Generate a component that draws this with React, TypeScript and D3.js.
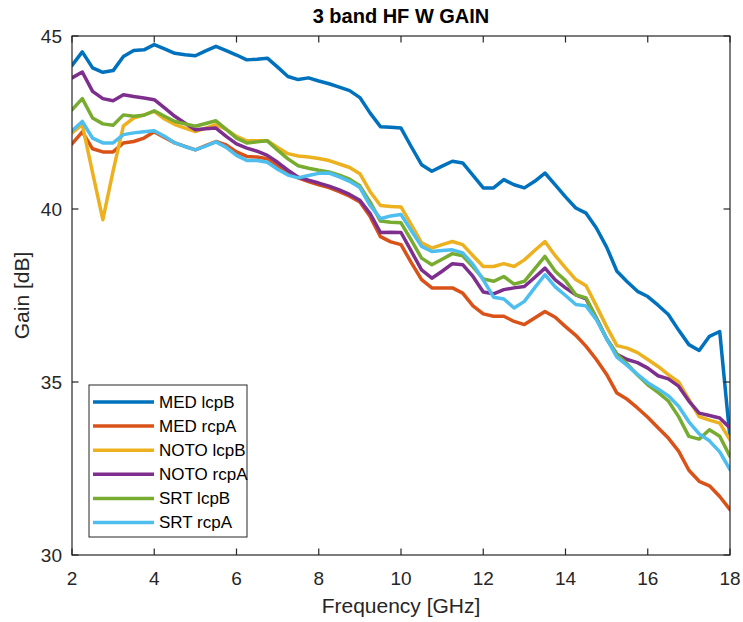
import React from "react";
import * as d3 from "d3";

const freq = [
  2.0, 2.25, 2.5, 2.75, 3.0, 3.25, 3.5, 3.75, 4.0, 4.25, 4.5, 4.75, 5.0, 5.25, 5.5, 5.75,
  6.0, 6.25, 6.5, 6.75, 7.0, 7.25, 7.5, 7.75, 8.0, 8.25, 8.5, 8.75, 9.0, 9.25, 9.5, 9.75,
  10.0, 10.25, 10.5, 10.75, 11.0, 11.25, 11.5, 11.75, 12.0, 12.25, 12.5, 12.75, 13.0, 13.25, 13.5, 13.75,
  14.0, 14.25, 14.5, 14.75, 15.0, 15.25, 15.5, 15.75, 16.0, 16.25, 16.5, 16.75, 17.0, 17.25, 17.5, 17.75, 18.0,
];

const medLcpB = [
  44.15, 44.54, 44.08, 43.95, 44.0, 44.41, 44.58, 44.6, 44.75, 44.63, 44.5, 44.46, 44.43, 44.57, 44.7, 44.58,
  44.45, 44.31, 44.33, 44.36, 44.1, 43.83, 43.74, 43.79, 43.7, 43.62, 43.52, 43.42, 43.22, 42.77, 42.38, 42.36,
  42.34, 41.8, 41.28, 41.09, 41.24, 41.38, 41.33, 40.97, 40.61, 40.61, 40.85, 40.7, 40.61, 40.8, 41.04, 40.7,
  40.35, 40.03, 39.88, 39.45, 38.9, 38.2, 37.9, 37.62, 37.47, 37.22, 36.95, 36.5, 36.08, 35.91, 36.32, 36.46, 33.38,
];

const medRcpA = [
  41.88, 42.23, 41.74, 41.65, 41.65, 41.91, 41.95, 42.05, 42.23, 42.07, 41.91, 41.81, 41.71, 41.83, 41.95, 41.85,
  41.65, 41.52, 41.5, 41.45, 41.25, 41.07, 40.9, 40.79, 40.7, 40.62, 40.5, 40.37, 40.2, 39.78, 39.2, 39.05,
  38.97, 38.45, 37.96, 37.72, 37.72, 37.72, 37.57, 37.2, 36.97, 36.9, 36.9, 36.75, 36.66, 36.85, 37.04, 36.87,
  36.6, 36.35, 36.03, 35.65, 35.22, 34.68, 34.5, 34.25, 33.98, 33.68, 33.38, 33.0, 32.45, 32.13, 32.0, 31.69, 31.31,
];

const notoLcpB = [
  42.2, 42.44, 41.05, 39.69, 41.1, 42.4, 42.63, 42.72, 42.82, 42.6, 42.44, 42.34, 42.24, 42.34, 42.44, 42.3,
  42.1, 41.97, 41.97, 41.97, 41.78, 41.6, 41.53, 41.5, 41.46, 41.4, 41.3, 41.2, 41.02, 40.5, 40.1, 40.07,
  40.06, 39.55, 39.02, 38.87, 38.97, 39.06, 38.97, 38.65, 38.34, 38.34, 38.42, 38.34, 38.53, 38.8, 39.06, 38.65,
  38.3, 37.96, 37.78, 37.2, 36.6, 36.05, 35.98, 35.85, 35.65, 35.45, 35.21, 35.0, 34.5, 34.0, 33.9, 33.81, 33.33,
];

const notoRcpA = [
  43.79, 43.96, 43.4, 43.19, 43.13, 43.3, 43.25, 43.21, 43.16, 42.92, 42.68, 42.48, 42.29, 42.32, 42.34, 42.1,
  41.88, 41.76, 41.67, 41.55, 41.35, 41.12, 40.92, 40.83, 40.75, 40.66, 40.55, 40.42, 40.25, 39.87, 39.32, 39.33,
  39.32, 38.78, 38.24, 38.0, 38.2, 38.42, 38.39, 38.05, 37.6, 37.55, 37.67, 37.72, 37.76, 38.02, 38.29, 37.95,
  37.72, 37.52, 37.4, 36.85, 36.25, 35.8, 35.65, 35.56, 35.4, 35.18, 35.09, 34.88, 34.45, 34.1, 34.03, 33.96, 33.67,
];

const srtLcpB = [
  42.87, 43.19, 42.63, 42.46, 42.42, 42.72, 42.68, 42.71, 42.84, 42.68, 42.53, 42.46, 42.39, 42.47, 42.55, 42.3,
  42.05, 41.91, 41.94, 41.97, 41.7, 41.45, 41.25, 41.18, 41.12, 41.07, 40.98, 40.86, 40.67, 40.2, 39.65, 39.62,
  39.6, 39.1, 38.58, 38.39, 38.55, 38.71, 38.65, 38.33, 37.98, 37.91, 38.05, 37.83, 37.91, 38.27, 38.63, 38.2,
  37.93, 37.52, 37.43, 36.85, 36.25, 35.8, 35.52, 35.2, 34.92, 34.7, 34.45, 34.0, 33.43, 33.35, 33.62, 33.43, 32.85,
];

const srtRcpA = [
  42.26, 42.53, 42.05, 41.91, 41.91, 42.15, 42.2, 42.23, 42.26, 42.1, 41.91, 41.8, 41.71, 41.82, 41.94, 41.78,
  41.55, 41.4, 41.4, 41.35, 41.15, 40.98, 40.9, 40.97, 41.03, 41.04, 40.93, 40.8, 40.62, 40.1, 39.72, 39.8,
  39.84, 39.38, 38.92, 38.77, 38.8, 38.82, 38.73, 38.4, 37.95, 37.45, 37.4, 37.14, 37.33, 37.72, 38.1, 37.75,
  37.5, 37.24, 37.2, 36.8, 36.25, 35.72, 35.48, 35.22, 34.98, 34.8, 34.6, 34.3, 33.85, 33.5, 33.3, 32.98, 32.47,
];

const seriesNames = ["MED lcpB", "MED rcpA", "NOTO lcpB", "NOTO rcpA", "SRT lcpB", "SRT rcpA"];
const seriesValues = [medLcpB, medRcpA, notoLcpB, notoRcpA, srtLcpB, srtRcpA];
const seriesColors = ["#0072BD", "#D95319", "#EDB120", "#7E2F8E", "#77AC30", "#4DBEEE"];

const xTicks = [2, 4, 6, 8, 10, 12, 14, 16, 18];
const yTicks = [30, 35, 40, 45];

const W = 743;
const H = 622;
const L = 72;
const R = 730;
const T = 36;
const B = 555;
const FONT = "'Liberation Sans', Arial, Helvetica, sans-serif";
const AX = "#262626";

export default function App() {
  const x = d3.scaleLinear().domain([2, 18]).range([L, R]);
  const y = d3.scaleLinear().domain([30, 45]).range([B, T]);
  const line = d3
    .line<number>()
    .x((_, i) => x(freq[i]))
    .y((d) => y(d));

  const tickLen = 6.5;
  const legX = 89;
  const legY = 385;
  const legW = 158;
  const legH = 152;
  const legRow = 24.1;

  return (
    <svg
      width={W}
      height={H}
      style={{ position: "absolute", left: 0, top: 0, background: "#fff" }}
      fontFamily={FONT}
    >
      <rect x={0} y={0} width={W} height={H} fill="#fff" />
      <defs>
        <clipPath id="plotClip">
          <rect x={L} y={T} width={R - L} height={B - T} />
        </clipPath>
      </defs>
      <g clipPath="url(#plotClip)">
        {seriesValues.map((vals, k) => (
          <path
            key={k}
            d={line(vals) || ""}
            fill="none"
            stroke={seriesColors[k]}
            strokeWidth={3.5}
            strokeLinejoin="round"
            strokeLinecap="round"
          />
        ))}
      </g>
      <rect x={L} y={T} width={R - L} height={B - T} fill="none" stroke={AX} strokeWidth={1.2} />
      {xTicks.map((t) => (
        <g key={"x" + t}>
          <line x1={x(t)} x2={x(t)} y1={B} y2={B - tickLen} stroke={AX} strokeWidth={1.2} />
          <line x1={x(t)} x2={x(t)} y1={T} y2={T + tickLen} stroke={AX} strokeWidth={1.2} />
          <text x={x(t)} y={B + 30} textAnchor="middle" fontSize={19} fill={AX}>
            {t}
          </text>
        </g>
      ))}
      {yTicks.map((t) => (
        <g key={"y" + t}>
          <line x1={L} x2={L + tickLen} y1={y(t)} y2={y(t)} stroke={AX} strokeWidth={1.2} />
          <line x1={R} x2={R - tickLen} y1={y(t)} y2={y(t)} stroke={AX} strokeWidth={1.2} />
          <text x={L - 10} y={y(t)} dy="0.35em" textAnchor="end" fontSize={19} fill={AX}>
            {t}
          </text>
        </g>
      ))}
      <text x={(L + R) / 2} y={23} textAnchor="middle" fontSize={20} fontWeight="bold" fill="#000">
        3 band HF W GAIN
      </text>
      <text x={(L + R) / 2} y={613} textAnchor="middle" fontSize={21} fill={AX}>
        Frequency [GHz]
      </text>
      <text
        transform={`translate(29, ${(T + B) / 2}) rotate(-90)`}
        textAnchor="middle"
        fontSize={21}
        fill={AX}
      >
        Gain [dB]
      </text>
      <rect x={legX} y={legY} width={legW} height={legH} fill="#fff" stroke={AX} strokeWidth={1} />
      {seriesNames.map((name, k) => {
        const cy = legY + 17 + k * legRow;
        return (
          <g key={name}>
            <line x1={legX + 4} x2={legX + 65} y1={cy} y2={cy} stroke={seriesColors[k]} strokeWidth={3.5} />
            <text x={legX + 70} y={cy} dy="0.35em" fontSize={17} fill="#000">
              {name}
            </text>
          </g>
        );
      })}
    </svg>
  );
}
